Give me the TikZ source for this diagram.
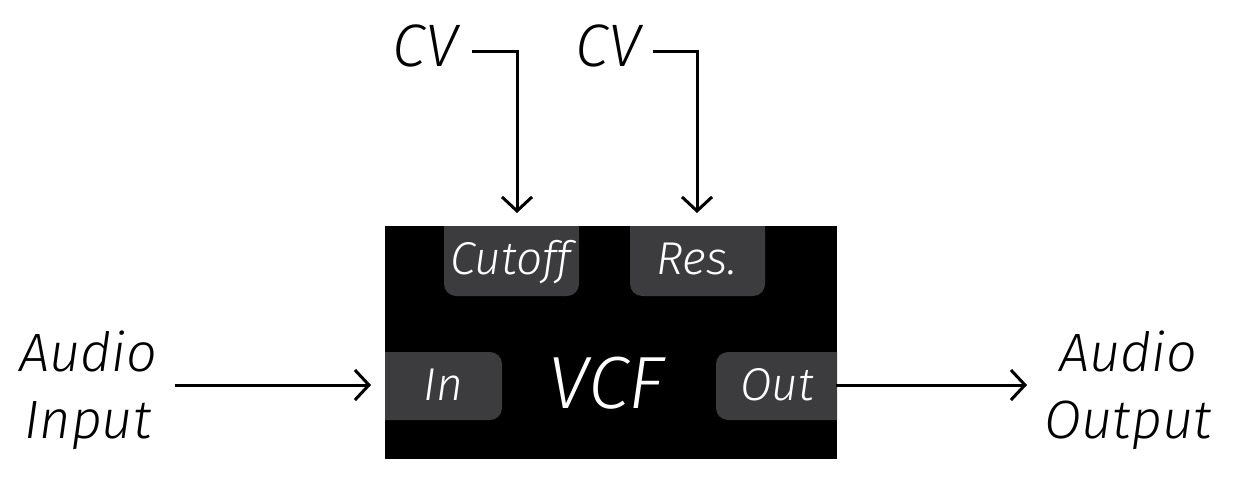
\documentclass[tikz,border=0pt]{standalone}
\usepackage{fontspec}
\setmainfont{Fira Sans Light}[ItalicFont=Fira Sans Light Italic]
\usetikzlibrary{arrows.meta}
\definecolor{tabgray}{HTML}{3C3C3E}
\begin{document}
\begin{tikzpicture}[x=1pt,y=1pt,
  arr/.style={line width=3pt,-{Straight Barb[length=14pt,width=30pt,line width=3pt]}},
  lbl/.style={font=\fontsize{54}{67}\selectfont\itshape,inner sep=0,anchor=base},
  cvlbl/.style={font=\fontsize{60}{67}\selectfont\itshape,inner sep=0,anchor=base},
  tablbl/.style={font=\fontsize{46}{55}\selectfont\itshape,text=white,inner sep=0,anchor=base},
  tabfill/.style={fill=tabgray,rounded corners=12pt}]
\useasboundingbox (0,0) rectangle (1240,-482);
% main box
\node[fill=black,minimum width=452,minimum height=233,inner sep=0,anchor=north west] (vcf) at (385,-226) {};
\begin{scope}
  \clip (385,-226) rectangle (837,-459);
  \fill[tabfill] (444,-200) rectangle (579,-296);
  \fill[tabfill] (630,-200) rectangle (765,-296);
  \fill[tabfill] (360,-352) rectangle (502,-420);
  \fill[tabfill] (716,-352) rectangle (860,-420);
\end{scope}
\node[tablbl] (cutoff) at (511,-274) {Cutoff};
\node[tablbl] (res) at (697,-274) {Res.};
\node[tablbl] (in) at (443,-400) {In};
\node[tablbl] (out) at (777,-400) {Out};
\node[font=\fontsize{74}{80}\selectfont\itshape,text=white,inner sep=0,anchor=base] (vcftext) at (606,-408) {VCF};
% labels
\node[cvlbl] (cv1) at (425,-66) {CV};
\node[cvlbl] (cv2) at (608,-66) {CV};
\node[lbl,align=center,anchor=center] (ain) at (88,-390) {Audio\\Input};
\node[lbl,align=center,anchor=center] (aout) at (1128,-390) {Audio\\Output};
% connector coordinates
\coordinate (cv1s) at (472,-51);
\coordinate (cv2s) at (653,-51);
\coordinate (cutin) at (517,-213);
\coordinate (resin) at (697,-213);
\coordinate (ains) at (175,-385);
\coordinate (inend) at (371,-385);
\coordinate (outs) at (836,-385);
\coordinate (outend) at (1027,-385);
\draw[arr,line join=miter] (cv1s) -| (cutin);
\draw[arr,line join=miter] (cv2s) -| (resin);
\draw[arr] (ains) -- (inend);
\draw[arr] (outs) -- (outend);
\end{tikzpicture}
\end{document}
